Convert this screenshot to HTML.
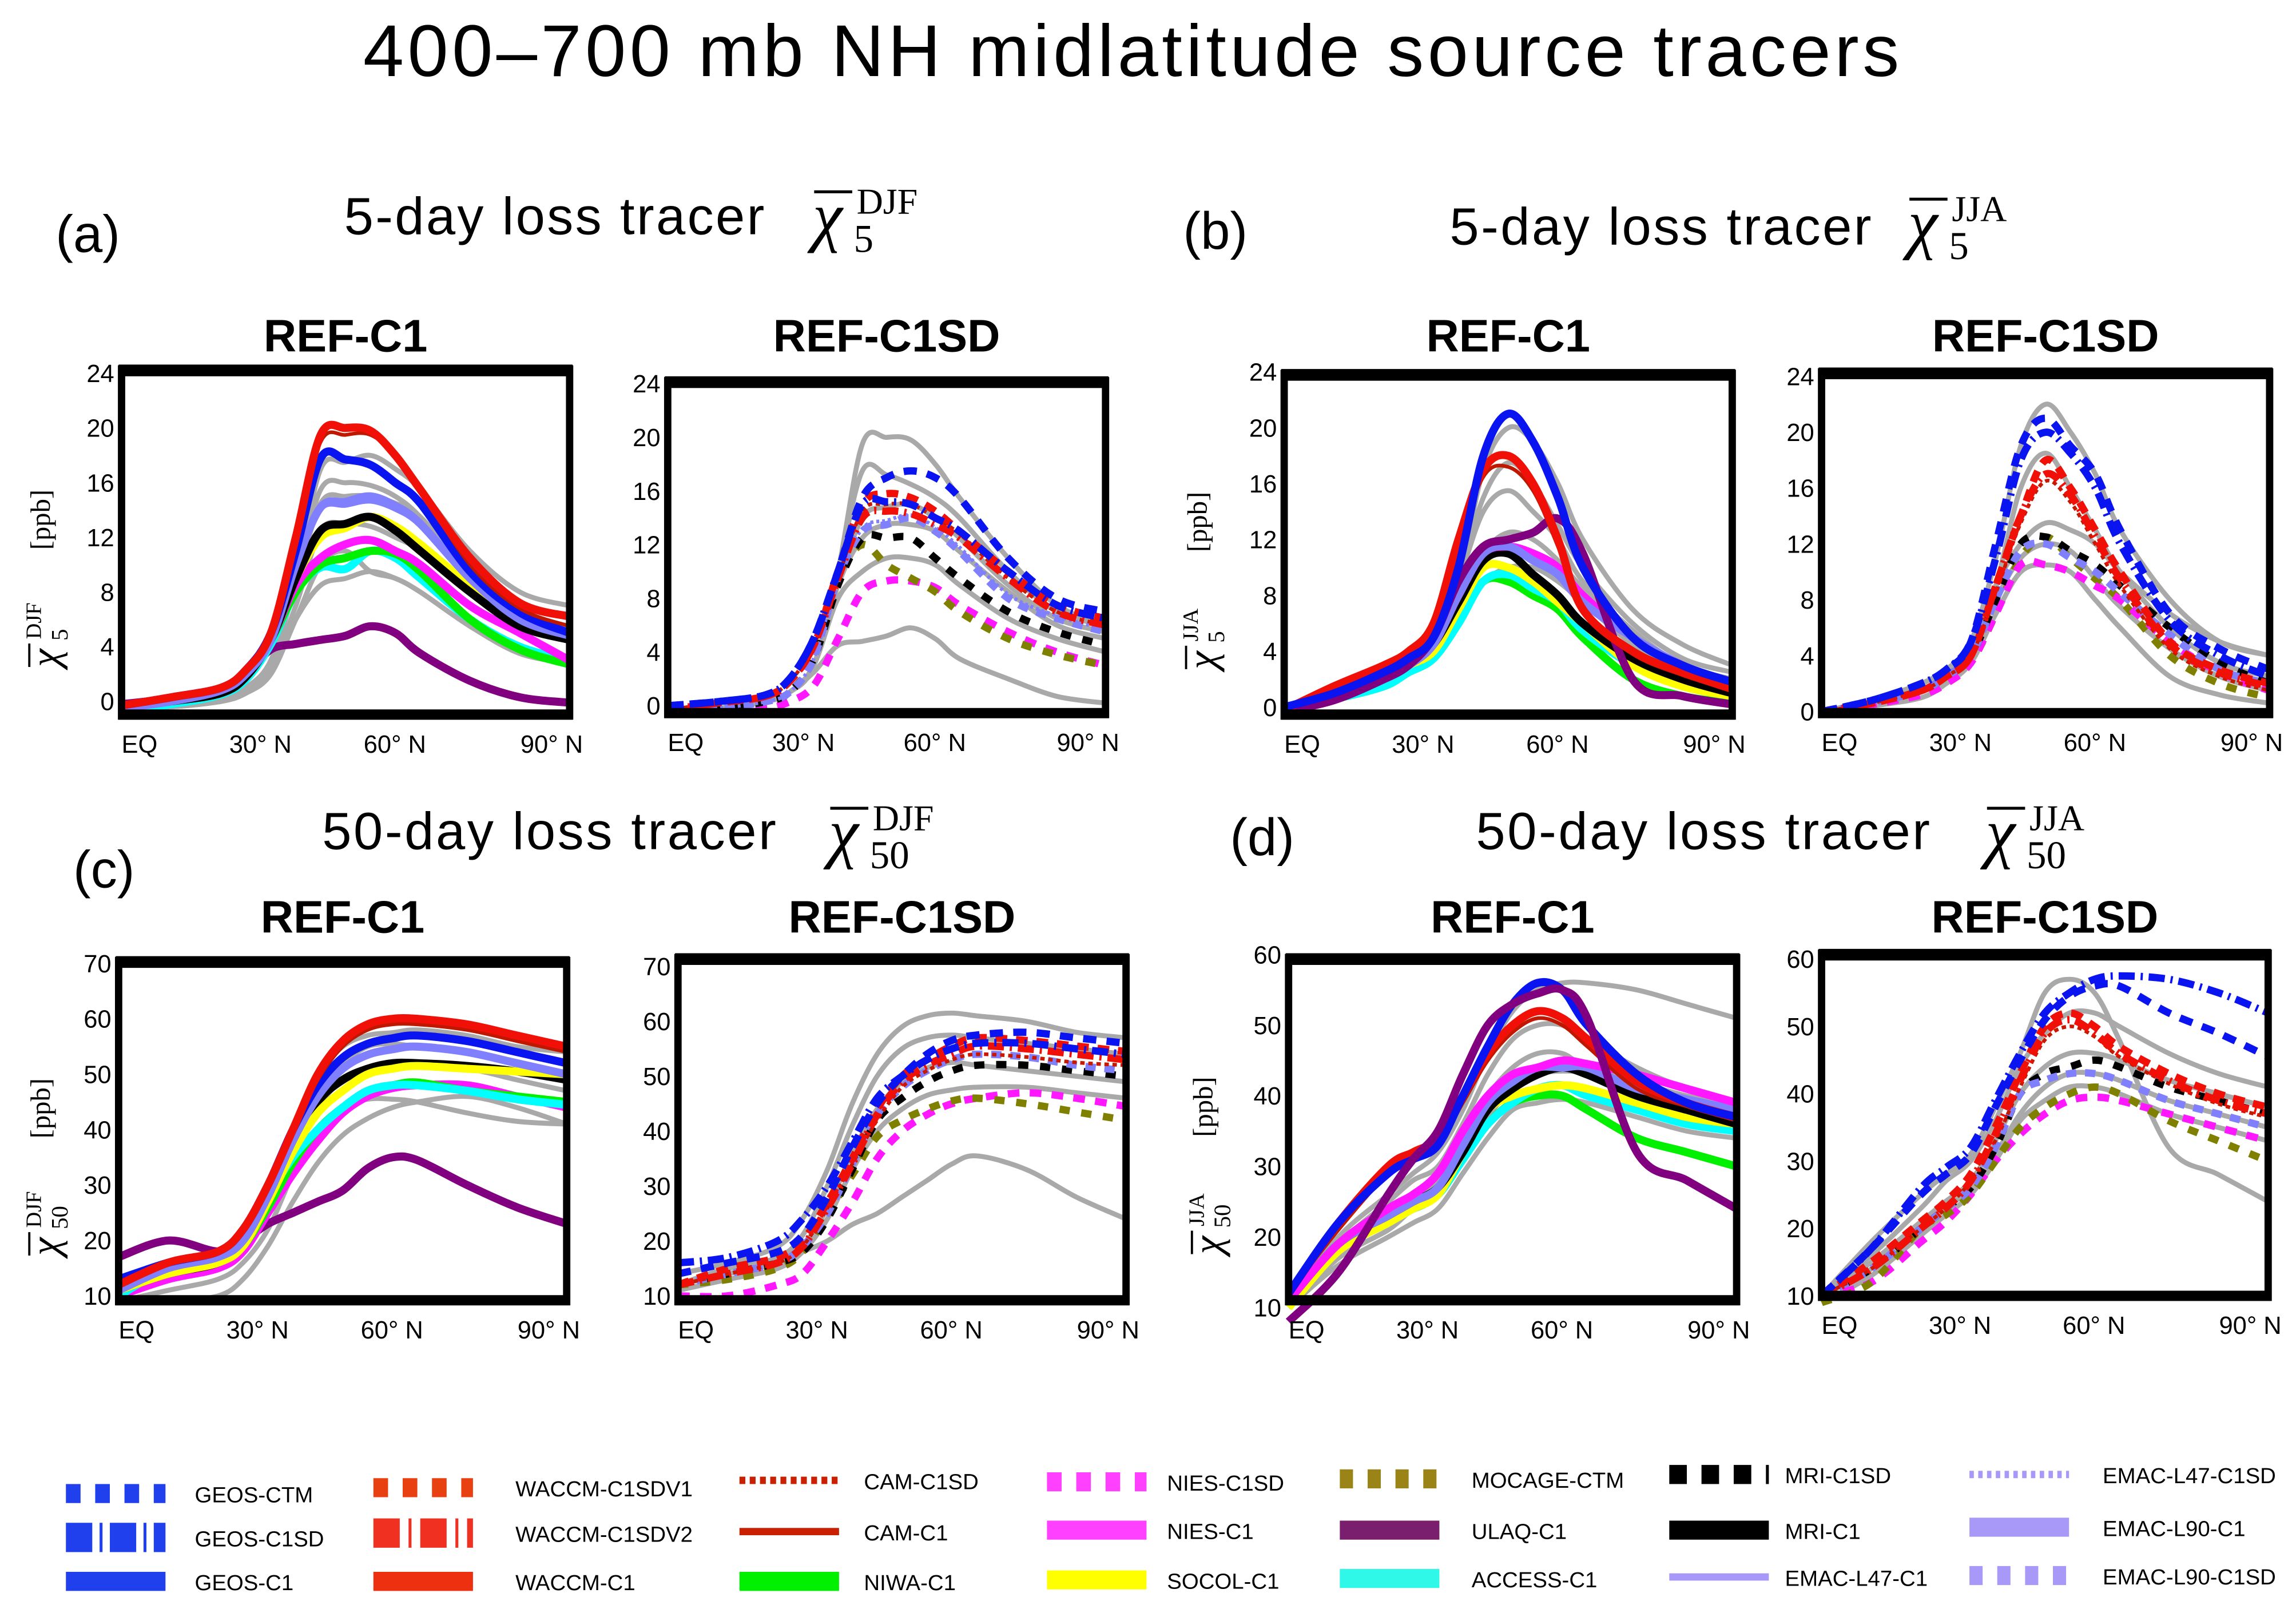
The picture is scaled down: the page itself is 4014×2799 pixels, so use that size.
<!DOCTYPE html>
<html><head><meta charset="utf-8"><style>
html,body{margin:0;padding:0;background:#fff}
svg{display:block}
text{font-family:"Liberation Sans",sans-serif}
.narrow{font-family:"Liberation Sans Narrow","Liberation Sans",sans-serif}
.serif{font-family:"Liberation Serif","DejaVu Serif",serif}
</style></head><body>
<svg id="fig" width="4014" height="2799" viewBox="0 0 1568 1093.4" xmlns="http://www.w3.org/2000/svg">
<text x="248" y="52" font-size="50" textLength="1049" lengthAdjust="spacing">400–700 mb NH midlatitude source tracers</text>
<g font-size="36">
<text x="38" y="172">(a)</text>
<text x="235" y="160" textLength="287" lengthAdjust="spacing">5-day loss tracer</text>
<text x="808" y="170">(b)</text>
<text x="990" y="167" textLength="288" lengthAdjust="spacing">5-day loss tracer</text>
<text x="50" y="606">(c)</text>
<text x="220" y="580" textLength="310" lengthAdjust="spacing">50-day loss tracer</text>
<text x="840" y="584">(d)</text>
<text x="1008" y="580" textLength="310" lengthAdjust="spacing">50-day loss tracer</text>
</g>
<g id="symbols"></g>
<g id="panels"></g>
<g id="legend"></g>
</svg>
<script>
const latitudes = [0,10,20,25,30,35,40,45,50,55,60,70,80,90];
const xTickLabels = ["EQ","30° N","60° N","90° N"];
const ticks5 = [0,4,8,12,16,20,24];
const ticksDJF50 = [10,20,30,40,50,60,70];
const ticksJJA50 = [10,20,30,40,50,60];

// Panel a left
const aL_gray1 = [-0.5,-0.3,0.2,1,3,9,17,17.5,18,17,15.5,11,8,7];
const aL_gray2 = [-0.5,-0.3,0.2,1,3,9,15.5,16,15.8,15,13.5,9.5,6.5,5.5];
const aL_gray3 = [-0.5,-0.3,0.2,1,3,8.5,14.5,15,15,14.5,13.5,9.5,6.5,5.5];
const aL_gray4 = [-0.5,-0.3,0,0.8,2.5,7,12.5,13,12.8,12,11,8,5.5,4.5];
const aL_gray5 = [-0.5,-0.4,0,0.6,2,6,8.5,9,9.5,9,8,5.5,3.5,2.8];
const aL_gray6 = [-0.5,-0.4,0,0.6,2,6,10,11,9.5,9,8,5.5,3.5,2.8];
const aL_waccm = [-0.3,0.3,1,2.3,5,12,19.5,20,19.8,18,15.5,10.5,7.2,6.2];
const aL_cam = [-0.3,0.3,1,2.3,5,12,19,19.5,19.5,18,15.5,10,6.8,5.5];
const aL_geos = [-0.3,0.3,1,2.3,5,11,17.8,17.7,17.3,16,14.5,9.5,6.5,5];
const aL_emac90 = [-0.5,0,0.8,2,4.5,10,14.2,14.6,15,14.3,13,9,6,4.8];
const aL_emac47 = [-0.5,0,0.8,2,4.5,10,14,14.3,14.6,14,12.8,9,6,4.8];
const aL_mri = [-0.5,0,0.6,1.8,4.5,9,12.5,13,13.5,12.5,11,8,5.5,4.5];
const aL_socol = [-0.5,0,0.6,1.8,4.5,9,12,12.7,13.5,12.8,11.5,8.5,6,5];
const aL_nies = [-0.5,0,0.6,1.8,4.5,8.5,10.5,11.5,11.8,11,10,7,5,3];
const aL_niwa = [-0.5,0,0.6,1.8,4.5,8,10,10.5,11,10.8,9.5,6,3.8,2.7];
const aL_access = [-0.7,-0.2,0.5,1.6,4.2,8,9.8,9.7,11,10.5,9,6,4,3];
const aL_ulaq = [-0.2,0.2,0.8,2,3.8,4.2,4.5,4.8,5.5,5,3.5,1.5,0.3,-0.1];
// Panel a right
const aR_gray1 = [-0.5,-0.2,0.3,1,3,10,19.5,20,19.8,18,15.5,11,7.5,6];
const aR_gray2 = [-0.5,-0.2,0.3,1,3,10,17.5,17.2,16.5,15.5,14,10,7,6];
const aR_gray3 = [-0.5,-0.2,0.3,1,3,9,14,14.8,15,14,12.5,9,6.5,5.5];
const aR_gray4 = [-0.5,-0.2,0.3,1,3,9,12.5,13.5,13.5,13,11.5,8.5,6,5];
const aR_gray5 = [-0.5,-0.2,0.3,1,3,8,10,11,11,10.5,9,6.5,5,4];
const aR_gray6 = [-0.5,-0.2,0.3,1,2.5,4.5,4.8,5.2,5.8,5,3.5,2,0.7,0.2];
const aR_geosCTM = [0,0.3,0.8,2,5,10,15.5,17,17.5,17,15.5,11,8,7];
const aR_geosSD = [0,0.3,0.8,2,5,10,15,15.2,15,14,13,10,7.5,6.5];
const aR_waccmV1 = [-0.3,0.2,0.7,1.8,4.5,10,15,15.8,15.5,14.5,13,10,7.5,6.5];
const aR_waccmV2 = [-0.3,0.2,0.7,1.8,4.5,9.5,14,14.5,14.3,13.5,12.5,9.5,7,6];
const aR_camSD = [-0.3,0.2,0.7,1.8,4.5,9.5,14.5,15,15,14,12.8,9.5,7,6];
const aR_niesSD = [-0.5,-0.4,-0.2,0.3,1.5,5,8.5,9.3,9.3,8.8,7.5,5.5,4,3];
const aR_mocage = [-0.5,-0.2,0.3,1,3.5,9.5,12,10.5,9.5,8.5,7,5,3.8,3];
const aR_mriSD = [-0.5,-0.2,0.3,1,3.5,9,12.5,12.5,12.5,11,9.5,7,5.5,4.5];
const aR_emac90SD = [-0.5,-0.2,0.3,1,3.5,9.5,13,13.5,14,13,11.5,8,6.5,5.5];
const aR_emac47SD = [-0.5,-0.2,0.3,1,3.5,9.5,13.2,13.8,14.2,13.3,11.8,8.3,6.7,5.7];
// Panel b left
const bL_gray1 = [0,0.8,2,3,4.5,9,17,20,19,16,12,7,4.5,3];
const bL_gray2 = [0,0.8,2,3,4.5,9,15,17.5,16,13,10,6,3.5,2.5];
const bL_gray3 = [0,0.8,2,3,4.5,9,14,15.5,14,12,9,5.5,3,2];
const bL_gray4 = [0,0.6,1.5,2.5,4,7,11,12.5,12,10.5,8.5,5,3,2];
const bL_gray5 = [0,0.6,1.5,2.5,4,7,9,10,10,9,7.5,4.5,2.5,1.5];
const bL_geos = [0,1,2.5,3.5,5,10,18,21,19,15,10,5,3,1.8];
const bL_waccm = [-0.2,1.5,3,4,6,12,17,18,16,12,7,4,2.5,1.3];
const bL_cam = [-0.2,1.4,2.8,3.8,5.8,11.5,16.5,17.2,15.5,11.5,6.8,3.8,2.3,1.2];
const bL_ulaq = [-0.3,0.5,2,3,5,9,11.5,12,12.5,13.5,11,2,0.8,0.2];
const bL_nies = [0,0.8,2,3,4.5,8,11,11.5,11,10,8,5,3,1.5];
const bL_emac90 = [0,0.8,2,3,4.5,8,11,11.5,10.5,9.5,7.5,5,3,1.7];
const bL_mri = [0,0.8,2,3,4.5,7.5,10.5,11,9.5,8,6,3.5,2,1];
const bL_socol = [0,0.8,2,3,4,7,10,10,9,7.5,6,3,1.5,0.8];
const bL_access = [0,0.6,1.5,2.5,3.5,6,9,9.5,8.5,7.5,5.5,3,1.5,0.8];
const bL_niwa = [0,0.6,1.5,2.5,3.5,6,9,9,8,7,5,2,0.8,0.3];
// Panel b right
const bR_gray1 = [0,0.8,2,3,5,11,19,22,20,17,13,8,5,4];
const bR_gray2 = [0,0.8,2,3,4.5,9,12,13.5,13,12,10,7,5,4];
const bR_gray3 = [0,0.8,2,3,4.5,9,16,18.5,16,13,10,6,3.5,2.5];
const bR_gray4 = [0,0.6,1.5,2.5,4,8,11,12,11.5,9.5,7.5,4.5,2.5,1.5];
const bR_gray5 = [0,0.4,1,2,3.5,7,10,10.5,10,8,6,2.5,1.2,0.6];
const bR_geosCTM = [0,0.8,2,3,5,12,19,21,19,17,13,7,4.5,3];
const bR_geosSD = [0,0.8,2,3,5,11,18,20,18.5,16,12,6.5,4,2.5];
const bR_waccmV1 = [0,0.6,1.5,2.5,4,9,14,18,16,13,10,5,3,2];
const bR_waccmV2 = [0,0.6,1.5,2.5,4,9,14,17,15.5,12.5,9.5,4.8,2.8,1.8];
const bR_camSD = [0,0.6,1.5,2.5,4,8.5,13.5,16.5,15,12,9,4.5,2.5,1.5];
const bR_mriSD = [0,0.6,1.5,2.5,4,8,12,12.5,11.5,10.5,9,6,3.5,2];
const bR_mocage = [0,0.5,1.2,2,3.5,7,11,12.5,11,9.5,8,4,2,1];
const bR_niesSD = [0,0.5,1.2,2,3.5,7,10.5,10.5,10,9,8,5,2.8,1.5];
const bR_emac90SD = [0,0.6,1.5,2.5,4,8,11.5,12,11,10,8.5,5.5,3,2];
// Panel c left
const cL_gray1 = [11,14,17,21,29,40,50,55,57,57.5,58,57,55,54];
const cL_gray2 = [11,14,16,19,27,38,47,52,55,55.5,55,54,52,50];
const cL_gray3 = [10,13,15,18,25,35,44,49,51,51.5,51.5,51,49,47];
const cL_gray4 = [9,11,13,16,22,32,40,44,45.5,45.5,45,43,41.5,41];
const cL_gray5 = [9,9,10,13,19,27,34,39,42,44,45,46,44,41];
const cL_waccm = [12,16,18,22,30,40,50,56,59,60,60,59,57,55];
const cL_cam = [12,16,18,22,30,40,49,55,58,59,59,58,56,54];
const cL_geos = [13,16,18,22,30,40,48,53,55.5,56.5,57,56,54,52];
const cL_emac90 = [11,15,17,20,28,38,46,51,53.5,54.5,55,54,52,50];
const cL_mri = [11,14,16,20,27,37,45,49,51,52,52,51.5,50.5,49];
const cL_socol = [11,14,16,19,27,36,43,47,50,51,51.5,51,50.5,50];
const cL_nies = [10,13,15,18,25,32,38,43,46,47.5,48,48,46,44];
const cL_niwa = [11,14,16,19,26,34,40,44,47,48,48.5,47,46,45];
const cL_access = [10,15,17,20,28,35,40,44,47,48,48,47,45.5,44.5];
const cL_ulaq = [17,20,18,20,23,25,27,29,33,35,34.5,30,26,23];
// Panel c right
const cR_gray1 = [14,16,19,24,33,45,54,59,61,61.5,61,60,58,57];
const cR_gray2 = [12,15,17,21,30,41,50,55,57,57.5,57,56,55,54];
const cR_gray3 = [12,14,16,19,26,36,44,49,51.5,52.5,52,51,50,49];
const cR_gray4 = [11,13,15,18,24,33,40,44,46.5,47.5,48,48,47,46];
const cR_gray5 = [12,15,16,18,20,23,25,28,31,34,35.5,33,28,24];
const cR_geosCTM = [14,16,18,21,28,37,45,50,54,56.5,57.5,58,57,56];
const cR_geosSD = [16,17,20,24,30,38,46,50,53,55,56,56,55,54];
const cR_waccmV1 = [12,15,17,20,27,35,44,50,53,55.5,57,56.5,55.5,54.5];
const cR_waccmV2 = [12,14,16,19,26,34,43,49,52,54,55.5,55,54,53];
const cR_camSD = [12,14,16,19,26,34,42,48,51,53,54,53.5,52.5,52];
const cR_mriSD = [12,14,16,18,24,33,42,46,49,51,52,52,51,50];
const cR_mocage = [12,13,15,18,25,32,39,42,44,45.5,46,45,43.5,42];
const cR_niesSD = [10,10,12,14,20,27,35,40,43,45,46,47,46,44.5];
const cR_emac90SD = [12,14,16,19,25,34,43,48,51,53,54,53.5,52,51];
// Panel d left
const dL_gray1 = [11,20,26,29,32,38,46,52,55,56,56,55,53,51];
const dL_gray2 = [11,19,25,28,30,36,43,48,50,50,48,44,41,39];
const dL_gray3 = [10,18,23,26,28,34,40,44,46,46,44,42,40,39];
const dL_gray4 = [10,17,21,24,26,31,37,41,43,43.5,43,40,38,37];
const dL_gray5 = [10,16,20,22,24,29,34,38,39,39.5,39,37,35,34];
const dL_geos = [12,22,29,31,33,40,47,53,56,55,50,43,39,37];
const dL_waccm = [12,22,30,32,34,40,46,50,52,51,48,42,39,37];
const dL_cam = [12,21,29,31,33,39,45,49,51,50,47,41,38.5,36.5];
const dL_ulaq = [8,15,26,31,35,43,50,53,54.5,55,51,32,28,24];
const dL_nies = [11,19,24,26,29,35,40,43,44,45,44.5,43,41,39];
const dL_niwa = [11,19,23,24,26,31,36,39,40,40,38,34,32,30];
const dL_access = [10,18,22,24,26,31,36,39,41,41.5,40,38,36,35];
const dL_mri = [11,19,23,25,27,32,38,41,43,44,43,40,38,36];
const dL_socol = [10,18,22,24,26,32,38,40,41,41.5,41,39,37,36];
const dL_emac90 = [11,19,23,25,27,33,39,42,44,44,44,41,39.5,38];
// Panel d right
const dR_gray1 = [10,18,25,28,31,38,46,55,57,55,48,32,28,24];
const dR_gray2 = [10,16,23,27,30,36,44,49,52,52,50,46,43,41];
const dR_gray3 = [10,15,21,24,27,33,40,44,46,46,45,42,40,38];
const dR_gray4 = [10,14,20,23,26,31,37,41,43,43,42,39,37,35];
const dR_gray5 = [9,13,19,22,25,30,36,39,41,41,40,37,35,33];
const dR_geosSD = [10,17,26,29,32,39,46,52,55,57,57.5,57,55,52];
const dR_geosCTM = [10,17,25,28,31,38,45,51,54.5,56,56,52,49,45.5];
const dR_waccmV1 = [10,15,21,24,28,35,43,50,52,50,47,43,40,38];
const dR_waccmV2 = [10,14,20,23,27,34,42,49,51,49,46,42,39,37];
const dR_camSD = [10,14,20,23,27,33,41,48,50,48.5,45.5,41.5,38.5,36.5];
const dR_mriSD = [10,14,20,23,26,32,40,43,44,45,44,41,39,37];
const dR_mocage = [9,12,20,22,25,30,35,38,40,41,40,36,33,30];
const dR_niesSD = [10,12,18,21,25,30,34,37,39,39.5,39,37,35,33];
const dR_emac90SD = [10,14,20,23,26,32,40,42,43,43,42,39,37,35];

const legendNames = ["GEOS-CTM","GEOS-C1SD","GEOS-C1","WACCM-C1SDV1","WACCM-C1SDV2","WACCM-C1","CAM-C1SD","CAM-C1","NIWA-C1","NIES-C1SD","NIES-C1","SOCOL-C1","MOCAGE-CTM","ULAQ-C1","ACCESS-C1","MRI-C1SD","MRI-C1","EMAC-L47-C1","EMAC-L47-C1SD","EMAC-L90-C1","EMAC-L90-C1SD"];

const NS = "http://www.w3.org/2000/svg";
const ST = {
 gray:{c:"#a9a9a9",w:3.4,d:""},
 geosCTM:{c:"#0a14f0",w:5,d:"9 7"}, geosSD:{c:"#0a14f0",w:5,d:"11 4 1.5 4"}, geos:{c:"#0a14f0",w:5.5,d:""},
 waccmV1:{c:"#f01008",w:5,d:"8 6"}, waccmV2:{c:"#f01008",w:5,d:"11 4 1.5 4"}, waccm:{c:"#f01008",w:5.5,d:""},
 camSD:{c:"#c81800",w:2.5,d:"3 2.5"}, cam:{c:"#c01800",w:2.5,d:""},
 niwa:{c:"#00f000",w:5.5,d:""}, niesSD:{c:"#ff18ff",w:5,d:"8 7"}, nies:{c:"#ff18ff",w:5.5,d:""},
 socol:{c:"#ffff00",w:5.5,d:""}, mocage:{c:"#808000",w:5,d:"7 8"}, ulaq:{c:"#800080",w:5.5,d:""},
 access:{c:"#00ffff",w:5.5,d:""}, mriSD:{c:"#000",w:5,d:"7 8"}, mri:{c:"#000",w:5.5,d:""},
 emac47:{c:"#8080ff",w:2.5,d:""}, emac47SD:{c:"#8080ff",w:2.5,d:"2 2"}, emac90:{c:"#8080ff",w:5.5,d:""}, emac90SD:{c:"#8080ff",w:5,d:"7 6"}
};
function el(tag, attrs, parent){const e=document.createElementNS(NS,tag);for(const k in attrs)e.setAttribute(k,attrs[k]);if(parent)parent.appendChild(e);return e;}
function smoothPath(pts){
  let d="M"+pts[0][0].toFixed(1)+","+pts[0][1].toFixed(1);
  for(let i=0;i<pts.length-1;i++){
    const p0=pts[Math.max(0,i-1)],p1=pts[i],p2=pts[i+1],p3=pts[Math.min(pts.length-1,i+2)];
    const c1x=p1[0]+(p2[0]-p0[0])/6,c1y=p1[1]+(p2[1]-p0[1])/6;
    const c2x=p2[0]-(p3[0]-p1[0])/6,c2y=p2[1]-(p3[1]-p1[1])/6;
    d+=` C${c1x.toFixed(1)},${c1y.toFixed(1)} ${c2x.toFixed(1)},${c2y.toFixed(1)} ${p2[0].toFixed(1)},${p2[1].toFixed(1)}`;
  }
  return d;
}

// header chi symbols
const symRoot=document.getElementById("symbols");
[[555,163,"DJF","5"],[1303,168,"JJA","5"],[566,584,"DJF","50"],[1356,584,"JJA","50"]].forEach(([x,y,sup,sub])=>{
  const g=el("g",{},symRoot);
  
  
  const c=el("text",{x:x,y:y,"font-size":46,class:"serif","font-style":"italic"},g); c.textContent="χ";
  el("line",{x1:x+1,x2:x+27,y1:y-32,y2:y-32,stroke:"#000","stroke-width":2},g);
  const s1=el("text",{x:x+30,y:y-17,"font-size":25,class:"serif"},g); s1.textContent=sup;
  const s2=el("text",{x:x+28,y:y+9,"font-size":27,class:"serif"},g); s2.textContent=sub;
});

const panels = [
 {id:"a-ref-c1",l:83,r:389,t:252,b:489,vmin:0,vmax:24,pMin:479,pMax:255,ticks:ticks5,title:"REF-C1",ty:240,ylab:["DJF","5"],yx:32,
  series:[["gray",aL_gray1],["gray",aL_gray2],["gray",aL_gray3],["gray",aL_gray4],["gray",aL_gray5],["gray",aL_gray6],["ulaq",aL_ulaq],["access",aL_access],["niwa",aL_niwa],["nies",aL_nies],["socol",aL_socol],["mri",aL_mri],["emac47",aL_emac47],["emac90",aL_emac90],["geos",aL_geos],["cam",aL_cam],["waccm",aL_waccm]]},
 {id:"a-ref-c1sd",l:456,r:755,t:260,b:488,vmin:0,vmax:24,pMin:482,pMax:262,ticks:ticks5,title:"REF-C1SD",ty:240,
  series:[["gray",aR_gray1],["gray",aR_gray2],["gray",aR_gray3],["gray",aR_gray4],["gray",aR_gray5],["gray",aR_gray6],["niesSD",aR_niesSD],["mocage",aR_mocage],["mriSD",aR_mriSD],["emac47SD",aR_emac47SD],["emac90SD",aR_emac90SD],["camSD",aR_camSD],["waccmV2",aR_waccmV2],["waccmV1",aR_waccmV1],["geosSD",aR_geosSD],["geosCTM",aR_geosCTM]]},
 {id:"b-ref-c1",l:877,r:1183,t:255,b:489,vmin:0,vmax:24,pMin:483,pMax:254,ticks:ticks5,title:"REF-C1",ty:240,ylab:["JJA","5"],yx:822,
  series:[["gray",bL_gray1],["gray",bL_gray2],["gray",bL_gray3],["gray",bL_gray4],["gray",bL_gray5],["niwa",bL_niwa],["access",bL_access],["socol",bL_socol],["mri",bL_mri],["nies",bL_nies],["emac90",bL_emac90],["ulaq",bL_ulaq],["cam",bL_cam],["waccm",bL_waccm],["geos",bL_geos]]},
 {id:"b-ref-c1sd",l:1244,r:1550,t:254,b:488,vmin:0,vmax:24,pMin:486,pMax:257,ticks:ticks5,title:"REF-C1SD",ty:240,
  series:[["gray",bR_gray1],["gray",bR_gray2],["gray",bR_gray3],["gray",bR_gray4],["gray",bR_gray5],["mocage",bR_mocage],["niesSD",bR_niesSD],["mriSD",bR_mriSD],["emac90SD",bR_emac90SD],["camSD",bR_camSD],["waccmV2",bR_waccmV2],["waccmV1",bR_waccmV1],["geosSD",bR_geosSD],["geosCTM",bR_geosCTM]]},
 {id:"c-ref-c1",l:81,r:387,t:656,b:889,vmin:10,vmax:70,pMin:885,pMax:658,ticks:ticksDJF50,title:"REF-C1",ty:637,ylab:["DJF","50"],yx:32,
  series:[["gray",cL_gray1],["gray",cL_gray2],["gray",cL_gray3],["gray",cL_gray4],["gray",cL_gray5],["ulaq",cL_ulaq],["nies",cL_nies],["niwa",cL_niwa],["access",cL_access],["mri",cL_mri],["socol",cL_socol],["emac90",cL_emac90],["geos",cL_geos],["cam",cL_cam],["waccm",cL_waccm]]},
 {id:"c-ref-c1sd",l:463,r:769,t:654,b:889,vmin:10,vmax:70,pMin:885,pMax:660,ticks:ticksDJF50,title:"REF-C1SD",ty:637,
  series:[["gray",cR_gray1],["gray",cR_gray2],["gray",cR_gray3],["gray",cR_gray4],["gray",cR_gray5],["niesSD",cR_niesSD],["mocage",cR_mocage],["mriSD",cR_mriSD],["emac90SD",cR_emac90SD],["camSD",cR_camSD],["waccmV2",cR_waccmV2],["waccmV1",cR_waccmV1],["geosSD",cR_geosSD],["geosCTM",cR_geosCTM]]},
 {id:"d-ref-c1",l:880,r:1186,t:654,b:889,vmin:10,vmax:60,pMin:893,pMax:652,ticks:ticksJJA50,title:"REF-C1",ty:637,ylab:["JJA","50"],yx:826,
  series:[["gray",dL_gray1],["gray",dL_gray2],["gray",dL_gray3],["gray",dL_gray4],["gray",dL_gray5],["niwa",dL_niwa],["access",dL_access],["socol",dL_socol],["mri",dL_mri],["emac90",dL_emac90],["nies",dL_nies],["cam",dL_cam],["waccm",dL_waccm],["geos",dL_geos],["ulaq",dL_ulaq]]},
 {id:"d-ref-c1sd",l:1244,r:1549,t:651,b:886,vmin:10,vmax:60,pMin:885,pMax:655,ticks:ticksJJA50,title:"REF-C1SD",ty:637,
  series:[["gray",dR_gray1],["gray",dR_gray2],["gray",dR_gray3],["gray",dR_gray4],["gray",dR_gray5],["niesSD",dR_niesSD],["mocage",dR_mocage],["mriSD",dR_mriSD],["emac90SD",dR_emac90SD],["camSD",dR_camSD],["waccmV2",dR_waccmV2],["waccmV1",dR_waccmV1],["geosCTM",dR_geosCTM],["geosSD",dR_geosSD]]}
];

const root = document.getElementById("panels");
const xTickFrac = [0,0.31,0.61,0.96];
panels.forEach(p=>{
  const g = el("g",{},root);
  
  
  const xs = lat => p.l + (lat/90)*(p.r-p.l);
  const ys = v => p.pMin + (v-p.vmin)/(p.vmax-p.vmin)*(p.pMax-p.pMin);
  const cx=(p.l+p.r)/2;
  const t = el("text",{x:cx,y:p.ty,"font-size":31,"font-weight":"bold","text-anchor":"middle",class:"narrow"},g);
  t.textContent=p.title;
  
  
  const lines = el("g",{"stroke-linejoin":"round",fill:"none"},g);
  
  
  p.series.forEach(([k,vals])=>{
    const s=ST[k];
    const pts = vals.map((v,i)=>[xs(latitudes[i]),ys(v)]);
    const pl = el("path",{d:smoothPath(pts),stroke:s.c,"stroke-width":s.w},lines);
    if(s.d) pl.setAttribute("stroke-dasharray",s.d);
    
    
  });
  const fr = el("rect",{x:p.l,y:p.t,width:p.r-p.l,height:p.b-p.t,fill:"none",stroke:"#000","stroke-width":5},g);
  
  
  const tl = el("line",{x1:p.l-2,x2:p.r+2,y1:p.t+1,y2:p.t+1,stroke:"#000","stroke-width":8},g);
  
  
  const bl = el("line",{x1:p.l-2,x2:p.r+2,y1:p.b-1,y2:p.b-1,stroke:"#000","stroke-width":7},g);
  
  
  p.ticks.forEach(v=>{
    const tt = el("text",{x:p.l-5,y:ys(v)+6,"font-size":17,"text-anchor":"end",class:"narrow"},g);
    tt.textContent=v;
    
    
  });
  xTickLabels.forEach((lab,i)=>{
    const xx = p.l + xTickFrac[i]*(p.r-p.l);
    const tx = el("text",{x:xx,y:p.b+25,"font-size":17,"text-anchor":i==0?"start":"middle",class:"narrow"},g);
    tx.textContent=lab;
    
    
  });
  if(p.ylab){
    const cy=(p.t+p.b)/2;
    const yg = el("g",{transform:`translate(${p.yx+8},${cy+10}) rotate(-90)`},g);
    
    
    const c=el("text",{x:-75,y:0,"font-size":28,class:"serif","font-style":"italic"},yg); c.textContent="χ";
    el("line",{x1:-75,x2:-59,y1:-20,y2:-20,stroke:"#000","stroke-width":1.5},yg);
    const s1=el("text",{x:-56,y:-12,"font-size":15,class:"serif"},yg); s1.textContent=p.ylab[0];
    const s2=el("text",{x:-57,y:6,"font-size":16,class:"serif"},yg); s2.textContent=p.ylab[1];
    const u=el("text",{x:5,y:-6,"font-size":19,class:"serif"},yg); u.textContent="[ppb]";
  }
});

// legend
const legendKeys = ["geosCTM","geosSD","geos","waccmV1","waccmV2","waccm","camSD","cam","niwa","niesSD","nies","socol","mocage","ulaq","access","mriSD","mri","emac47","emac47SD","emac90","emac90SD"];
const legCols = [[45,133,[1020,1050,1080]],[255,352,[1016,1047,1080]],[505,590,[1011,1046,1080]],[715,797,[1012,1045,1079]],[915,1005,[1010,1045,1078]],[1140,1219,[1007,1045,1077]],[1345,1436,[1007,1043,1076]]];
const legOrder = [[0,1,2],[3,4,5],[6,7,8],[9,10,11],[12,13,14],[15,16,17],[18,19,20]];
const lcol = {geosCTM:"#2040ee",geosSD:"#2040ee",geos:"#2040ee",waccmV1:"#e84010",waccmV2:"#f03020",waccm:"#ec3010",camSD:"#c82000",cam:"#c82000",niwa:"#00f000",niesSD:"#ff40ff",nies:"#ff40ff",socol:"#ffff00",mocage:"#9a8418",ulaq:"#7a1f6e",access:"#30f8e8",mriSD:"#000",mri:"#000",emac47:"#a898f8",emac47SD:"#a898f8",emac90:"#a898f8",emac90SD:"#a898f8"};
const lw = {camSD:5,cam:5,emac47:5,emac47SD:5};
const ldash = {geosCTM:"10 10",geosSD:"18 5 2 5",waccmV1:"10 10",waccmV2:"18 6 2 6",camSD:"4 3",niesSD:"10 10",mocage:"9 10",mriSD:"12 10",emac47SD:"3 3",emac90SD:"9 10"};
const leg = document.getElementById("legend");
legCols.forEach((c,ci)=>{
  legOrder[ci].forEach((idx,ri)=>{
    const k=legendKeys[idx], y=c[2][ri];
    const ln = el("line",{x1:c[0],x2:c[0]+68,y1:y,y2:y,stroke:lcol[k],"stroke-width":lw[k]||(k=="geosSD"||k=="waccmV2"?20:13)},leg);
    if(ldash[k]) ln.setAttribute("stroke-dasharray",ldash[k]);
    
    
    const tx = el("text",{x:c[1],y:y+6,"font-size":15,class:"narrow"},leg);
    tx.textContent = legendNames[idx];
    
    
  });
});
</script>
</body></html>
